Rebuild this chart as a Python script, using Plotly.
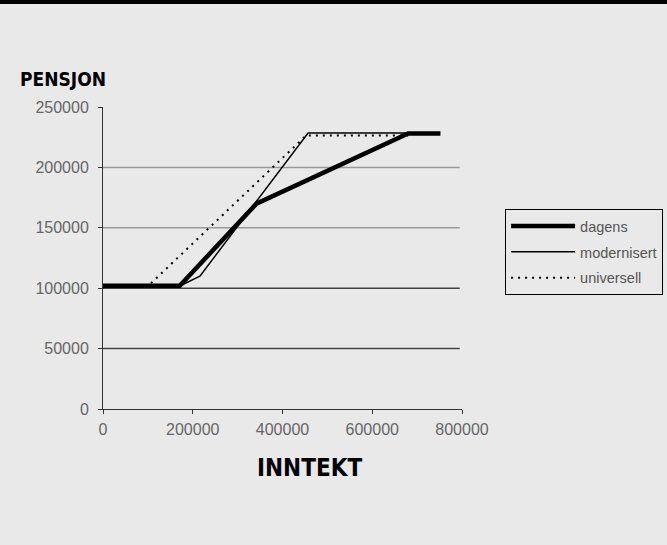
import plotly.graph_objects as go

# Data (income -> pension)
dagens_x = [0, 171000, 342000, 680000, 752000]
dagens_y = [102000, 102000, 170000, 228000, 228000]

modernisert_x = [0, 175000, 186000, 197000, 208000, 216000, 457000, 680000]
modernisert_y = [102000, 102500, 104500, 106800, 108500, 110000, 228500, 228500]

universell_x = [0, 101000, 453000, 680000]
universell_y = [102000, 102000, 226500, 226500]

x_ticks = [0, 200000, 400000, 600000, 800000]
y_ticks = [0, 50000, 100000, 150000, 200000, 250000]
grid_levels = [50000, 100000, 150000, 200000]
grid_colors = ["#444444", "#444444", "#9a9a9a", "#9a9a9a"]

BG = "#e9e9e9"
FONT = "Liberation Sans, Arial, sans-serif"

fig = go.Figure()
fig.add_trace(go.Scatter(x=dagens_x, y=dagens_y, mode="lines", name="dagens",
                         legendgroup="a", line=dict(color="black", width=4.5)))
fig.add_trace(go.Scatter(x=modernisert_x, y=modernisert_y, mode="lines", name="modernisert",
                         legendgroup="b", line=dict(color="black", width=1.5)))
fig.add_trace(go.Scatter(x=universell_x, y=universell_y, mode="lines", name="universell",
                         legendgroup="c", line=dict(color="black", width=2, dash="2px,5px")))

shapes = []
for lvl, col in zip(grid_levels, grid_colors):
    shapes.append(dict(type="line", xref="x", yref="y", x0=0, x1=795000, y0=lvl, y1=lvl,
                       line=dict(color=col, width=1.5), layer="below"))
# black band at the top of the picture
shapes.append(dict(type="rect", xref="paper", yref="paper", x0=-0.5, x1=2, y0=1.341, y1=1.5,
                   fillcolor="black", line=dict(width=0)))

fig.update_layout(
    width=667, height=545,
    paper_bgcolor=BG, plot_bgcolor=BG,
    margin=dict(l=103, r=205, t=107, b=136, autoexpand=False),
    font=dict(family=FONT, color="#666666", size=16),
    shapes=shapes,
    showlegend=True,
    legend=dict(x=1.12, y=0.662, xanchor="left", yanchor="top",
                bordercolor="black", borderwidth=1, bgcolor=BG,
                font=dict(size=14.5, color="#555555"),
                itemwidth=64, tracegroupgap=4, traceorder="grouped"),
    xaxis=dict(range=[0, 800000], tickvals=x_ticks, ticktext=[str(v) for v in x_ticks],
               showgrid=False, zeroline=False, showline=True, linecolor="#333333", linewidth=1,
               ticks="outside", ticklen=4, tickcolor="#333333", tickfont=dict(size=16),
               ticklabelstandoff=2),
    yaxis=dict(range=[0, 250000], tickvals=y_ticks, ticktext=[str(v) for v in y_ticks],
               showgrid=False, zeroline=False, showline=True, linecolor="#333333", linewidth=1,
               ticks="outside", ticklen=4, tickcolor="#333333", tickfont=dict(size=16),
               ticklabelstandoff=6),
    annotations=[
        dict(text="<b>PENSJON</b>", xref="paper", yref="paper", x=-0.237, y=1.092,
             xanchor="left", yanchor="middle", showarrow=False,
             font=dict(family="DejaVu Sans Condensed, Liberation Sans Narrow, DejaVu Sans", size=19, color="black")),
        dict(text="<b>INNTEKT</b>", xref="paper", yref="paper", x=0.575, y=-0.195,
             xanchor="center", yanchor="middle", showarrow=False,
             font=dict(family="DejaVu Sans Condensed, Liberation Sans Narrow, DejaVu Sans", size=24, color="black")),
    ],
)

fig.write_html("out.html", config={"displayModeBar": False},
               post_script="document.body.style.margin='0';document.body.style.overflow='hidden';")
